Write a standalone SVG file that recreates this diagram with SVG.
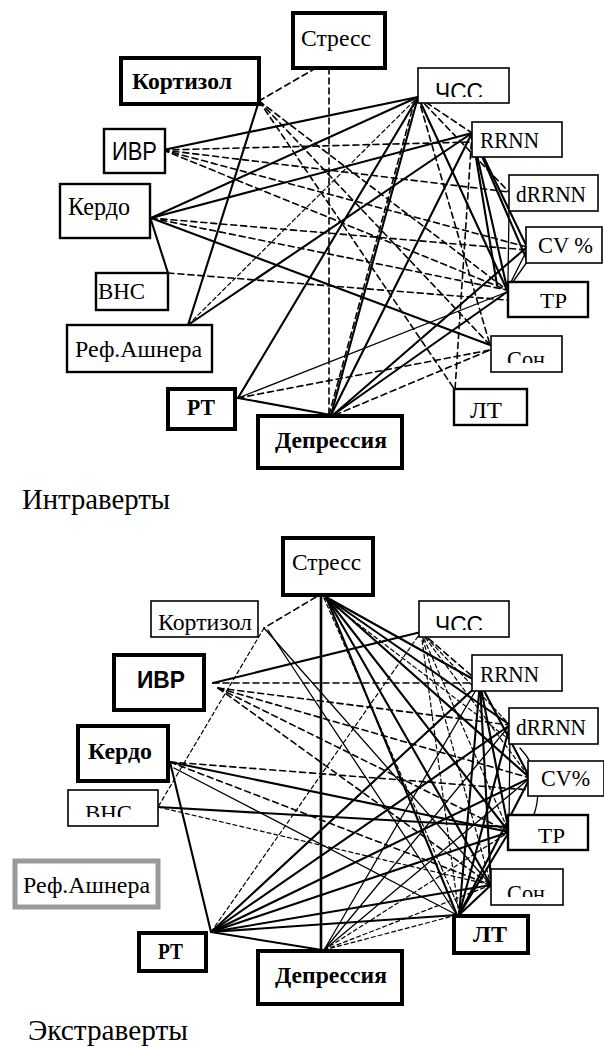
<svg xmlns="http://www.w3.org/2000/svg" width="604" height="1047" viewBox="0 0 604 1047">
<style>
.bg{fill:#fff}
.box{fill:#fff;stroke:#000}
.b1{stroke-width:1.6}
.b2{stroke-width:2.4}
.b4{stroke-width:4}
.gray{stroke:#999;stroke-width:5}
.t{font-family:"Liberation Serif","Times New Roman",serif;fill:#000}
.sans{font-family:"Liberation Sans",Arial,sans-serif;fill:#000}
.bold{font-weight:bold}
.cap{font-family:"Liberation Serif","Times New Roman",serif;font-size:29px;fill:#000}
.c line,.c path{fill:none;stroke:#000;stroke-linecap:round}
.s{stroke-width:2.1}
.n{stroke-width:1.3}
.d{stroke-width:1.6;stroke-dasharray:6 4;stroke-linecap:butt}
.dn{stroke-width:1.2;stroke-dasharray:4 3;stroke-linecap:butt}
</style>
<defs>
<clipPath id="cp1"><rect x="418" y="68" width="91" height="29"/></clipPath>
<clipPath id="cp2"><rect x="491" y="336" width="71" height="27"/></clipPath>
<clipPath id="cp3"><rect x="68" y="790" width="90" height="27"/></clipPath>
<clipPath id="cp4"><rect x="419" y="601" width="90" height="29"/></clipPath>
<clipPath id="cp5"><rect x="491" y="869" width="72" height="28"/></clipPath>
</defs>
<rect class="bg" x="0" y="0" width="604" height="1047"/>

<!-- ===== TOP: connectors ===== -->
<g id="connectors-top" class="c">
<line class="d" x1="329" y1="68" x2="329" y2="415"/>
<line class="d" x1="316" y1="68" x2="259" y2="101"/>
<line class="s" x1="259" y1="101" x2="188" y2="325"/>
<line class="d" x1="259" y1="101" x2="490" y2="345"/>
<line class="d" x1="259" y1="101" x2="455" y2="390"/>
<line class="d" x1="259" y1="101" x2="507" y2="290"/>
<line class="s" x1="163" y1="150" x2="418" y2="97"/>
<line class="d" x1="163" y1="150" x2="472" y2="142"/>
<line class="d" x1="163" y1="150" x2="509" y2="192"/>
<line class="d" x1="163" y1="150" x2="527" y2="247"/>
<line class="d" x1="163" y1="150" x2="507" y2="290"/>
<line class="s" x1="151" y1="218" x2="418" y2="97"/>
<line class="s" x1="151" y1="218" x2="472" y2="133"/>
<line class="s" x1="151" y1="218" x2="490" y2="345"/>
<line class="s" x1="151" y1="220" x2="168" y2="273"/>
<line class="d" x1="151" y1="218" x2="507" y2="290"/>
<line class="d" x1="151" y1="218" x2="527" y2="250"/>
<line class="d" x1="168" y1="273" x2="507" y2="300"/>
<line class="s" x1="188" y1="325" x2="472" y2="133"/>
<line class="dn" x1="188" y1="325" x2="418" y2="97"/>
<line class="s" x1="238" y1="398" x2="418" y2="97"/>
<line class="n" x1="238" y1="398" x2="507" y2="292"/>
<line class="d" x1="238" y1="398" x2="490" y2="350"/>
<line class="s" x1="238" y1="398" x2="331" y2="415"/>
<line class="s" x1="333" y1="415" x2="527" y2="247"/>
<line class="s" x1="333" y1="415" x2="507" y2="292"/>
<line class="d" x1="335" y1="415" x2="490" y2="350"/>
<line class="s" x1="331" y1="415" x2="472" y2="133"/>
<line class="s" x1="331" y1="415" x2="418" y2="97"/>
<line class="d" x1="329" y1="415" x2="414" y2="103"/>
<line class="s" x1="418" y1="97" x2="507" y2="290"/>
<line class="d" x1="418" y1="97" x2="472" y2="133"/>
<line class="d" x1="418" y1="97" x2="509" y2="192"/>
<line class="d" x1="418" y1="97" x2="490" y2="345"/>
<line class="s" x1="472" y1="133" x2="507" y2="288"/>
<line class="s" x1="472" y1="133" x2="527" y2="247"/>
<line class="s" x1="472" y1="133" x2="527" y2="260"/>
<line class="s" x1="472" y1="133" x2="497" y2="285"/>
<line class="n" x1="509" y1="211" x2="508" y2="282"/>
<line class="n" x1="507" y1="290" x2="527" y2="250"/>
<line class="n" x1="510" y1="286" x2="527" y2="262"/>
<line class="d" x1="472" y1="133" x2="455" y2="390"/>
</g>

<!-- ===== TOP: nodes ===== -->
<g id="t-stress"><rect class="box b4" x="293" y="13" width="92" height="55"/><text class="t" x="301" y="46" font-size="23" textLength="70" lengthAdjust="spacingAndGlyphs">Стресс</text></g>
<g id="t-kortizol"><rect class="box b4" x="121" y="58" width="138" height="46"/><text class="t bold" x="132" y="89" font-size="23" textLength="100" lengthAdjust="spacingAndGlyphs">Кортизол</text></g>
<g id="t-ivr"><rect class="box b2" x="104" y="129" width="61" height="44"/><text class="sans" x="112" y="160" font-size="25" textLength="45" lengthAdjust="spacingAndGlyphs">ИВР</text></g>
<g id="t-kerdo"><rect class="box b2" x="60" y="184" width="90" height="54"/><text class="t" x="68" y="215" font-size="25" textLength="62" lengthAdjust="spacingAndGlyphs">Кердо</text></g>
<g id="t-vns"><rect class="box b2" x="96" y="273" width="72" height="37"/><text class="t" x="98" y="299" font-size="23" textLength="47" lengthAdjust="spacingAndGlyphs">ВНС</text></g>
<g id="t-ash"><rect class="box b2" x="67" y="325" width="145" height="47"/><text class="t" x="75" y="357" font-size="24" textLength="127" lengthAdjust="spacingAndGlyphs">Реф.Ашнера</text></g>
<g id="t-rt"><rect class="box b4" x="168" y="389" width="67" height="40"/><text class="t bold" x="187" y="415" font-size="23" textLength="28" lengthAdjust="spacingAndGlyphs">РТ</text></g>
<g id="t-depr"><rect class="box b4" x="258" y="416" width="144" height="52"/><text class="t bold" x="275" y="448" font-size="24" textLength="112" lengthAdjust="spacingAndGlyphs">Депрессия</text></g>
<g id="t-chss"><rect class="box b1" x="418" y="68" width="91" height="35"/><text class="sans" x="435" y="100" font-size="23" textLength="48" lengthAdjust="spacingAndGlyphs" clip-path="url(#cp1)">ЧСС</text></g>
<g id="t-rrnn"><rect class="box b1" x="472" y="122" width="90" height="35"/><text class="t" x="480" y="148" font-size="23" textLength="59" lengthAdjust="spacingAndGlyphs">RRNN</text></g>
<g id="t-drrnn"><rect class="box b1" x="509" y="175" width="89" height="36"/><text class="t" x="516" y="202" font-size="23" textLength="70" lengthAdjust="spacingAndGlyphs">dRRNN</text></g>
<g id="t-cv"><rect class="box b1" x="526" y="227" width="76" height="36"/><text class="t" x="538" y="253" font-size="24" textLength="55" lengthAdjust="spacingAndGlyphs">CV %</text></g>
<g id="t-tr"><rect class="box b2" x="508" y="282" width="80" height="35"/><text class="t" x="540" y="308" font-size="21" textLength="27" lengthAdjust="spacingAndGlyphs">ТР</text></g>
<g id="t-son"><rect class="box b1" x="491" y="336" width="71" height="36"/><text class="t" x="507" y="367" font-size="23" textLength="38" lengthAdjust="spacingAndGlyphs" clip-path="url(#cp2)">Сон</text></g>
<g id="t-lt"><rect class="box b2" x="454" y="389" width="73" height="36"/><text class="t" x="470" y="418" font-size="23" textLength="32" lengthAdjust="spacingAndGlyphs">ЛТ</text></g>

<text id="cap-intro" class="cap" x="22" y="509" textLength="148" lengthAdjust="spacingAndGlyphs">Интраверты</text>

<!-- ===== BOTTOM: connectors ===== -->
<g id="connectors-bottom" class="c">
<line class="s" x1="321" y1="596" x2="321" y2="950" style="stroke-width:2.6"/>
<line class="d" x1="316" y1="597" x2="264" y2="628"/>
<line class="s" x1="326" y1="597" x2="480" y2="683"/>
<line class="s" x1="326" y1="597" x2="510" y2="725"/>
<line class="s" x1="326" y1="597" x2="530" y2="778"/>
<line class="s" x1="326" y1="597" x2="509" y2="832"/>
<line class="s" x1="326" y1="597" x2="491" y2="885"/>
<line class="s" x1="326" y1="597" x2="457" y2="915"/>
<line class="dn" x1="324" y1="598" x2="462" y2="915"/>
<line class="dn" x1="324" y1="598" x2="510" y2="740"/>
<line class="n" x1="264" y1="628" x2="491" y2="885"/>
<line class="n" x1="268" y1="630" x2="457" y2="915"/>
<line class="dn" x1="264" y1="628" x2="158" y2="807"/>
<line class="s" x1="213" y1="683" x2="421" y2="632"/>
<line class="d" x1="213" y1="683" x2="480" y2="683"/>
<line class="d" x1="218" y1="688" x2="510" y2="725"/>
<line class="d" x1="218" y1="688" x2="530" y2="778"/>
<line class="d" x1="218" y1="688" x2="509" y2="832"/>
<line class="d" x1="218" y1="688" x2="491" y2="885"/>
<line class="s" x1="170" y1="762" x2="211" y2="932"/>
<line class="s" x1="170" y1="762" x2="509" y2="832"/>
<line class="n" x1="174" y1="768" x2="457" y2="915"/>
<line class="d" x1="170" y1="762" x2="530" y2="790"/>
<line class="d" x1="170" y1="762" x2="491" y2="885"/>
<line class="s" x1="158" y1="807" x2="509" y2="827"/>
<line class="dn" x1="158" y1="807" x2="491" y2="885"/>
<line class="dn" x1="211" y1="932" x2="421" y2="632"/>
<line class="s" x1="211" y1="932" x2="480" y2="683"/>
<line class="s" x1="211" y1="932" x2="510" y2="725"/>
<line class="s" x1="211" y1="932" x2="530" y2="778"/>
<line class="s" x1="211" y1="932" x2="509" y2="832"/>
<line class="s" x1="211" y1="932" x2="491" y2="885"/>
<line class="s" x1="211" y1="932" x2="457" y2="915"/>
<line class="s" x1="211" y1="932" x2="322" y2="950"/>
<line class="n" x1="324" y1="950" x2="480" y2="683"/>
<line class="n" x1="324" y1="950" x2="510" y2="725"/>
<line class="n" x1="324" y1="950" x2="530" y2="778"/>
<line class="dn" x1="324" y1="950" x2="509" y2="832"/>
<line class="dn" x1="324" y1="950" x2="491" y2="885"/>
<line class="dn" x1="324" y1="950" x2="457" y2="915"/>
<line class="s" x1="459" y1="915" x2="480" y2="683"/>
<line class="s" x1="459" y1="915" x2="510" y2="725"/>
<line class="s" x1="459" y1="915" x2="530" y2="778"/>
<line class="s" x1="459" y1="915" x2="509" y2="832"/>
<line class="s" x1="459" y1="915" x2="491" y2="885"/>
<line class="dn" x1="459" y1="915" x2="421" y2="632"/>
<line class="d" x1="421" y1="632" x2="480" y2="683"/>
<line class="dn" x1="421" y1="632" x2="510" y2="725"/>
<line class="dn" x1="421" y1="632" x2="530" y2="778"/>
<line class="dn" x1="421" y1="632" x2="509" y2="832"/>
<line class="dn" x1="421" y1="632" x2="491" y2="885"/>
<line class="s" x1="480" y1="683" x2="509" y2="832"/>
<line class="s" x1="480" y1="683" x2="530" y2="778"/>
<line class="s" x1="480" y1="683" x2="491" y2="885"/>
<line class="n" x1="510" y1="725" x2="509" y2="832"/>
<path class="n" d="M520 748 C545 775 545 815 512 848"/>
</g>

<!-- ===== BOTTOM: nodes ===== -->
<g id="b-stress"><rect class="box b4" x="283" y="538" width="90" height="57"/><text class="t" x="292" y="570" font-size="23" textLength="69" lengthAdjust="spacingAndGlyphs">Стресс</text></g>
<g id="b-kortizol"><rect class="box b1" x="151" y="601" width="107" height="36"/><text class="t" x="158" y="630" font-size="23" textLength="94" lengthAdjust="spacingAndGlyphs">Кортизол</text></g>
<g id="b-ivr"><rect class="box b4" x="114" y="655" width="90" height="55"/><text class="sans bold" x="137" y="688" font-size="23" textLength="48" lengthAdjust="spacingAndGlyphs">ИВР</text></g>
<g id="b-kerdo"><rect class="box b4" x="78" y="726" width="90" height="55"/><text class="t bold" x="88" y="759" font-size="24" textLength="64" lengthAdjust="spacingAndGlyphs">Кердо</text></g>
<g id="b-vns"><rect class="box b1" x="68" y="790" width="90" height="36"/><text class="t" x="85" y="821" font-size="23" textLength="47" lengthAdjust="spacingAndGlyphs" clip-path="url(#cp3)">ВНС</text></g>
<g id="b-ash"><rect class="box gray" x="15" y="861" width="143" height="46"/><text class="t" x="23" y="893" font-size="24" textLength="127" lengthAdjust="spacingAndGlyphs">Реф.Ашнера</text></g>
<g id="b-rt"><rect class="box b4" x="139" y="933" width="67" height="38"/><text class="t bold" x="158" y="959" font-size="23" textLength="25" lengthAdjust="spacingAndGlyphs">РТ</text></g>
<g id="b-depr"><rect class="box b4" x="258" y="951" width="144" height="53"/><text class="t bold" x="275" y="983" font-size="24" textLength="112" lengthAdjust="spacingAndGlyphs">Депрессия</text></g>
<g id="b-chss"><rect class="box b1" x="419" y="601" width="90" height="36"/><text class="sans" x="435" y="633" font-size="23" textLength="48" lengthAdjust="spacingAndGlyphs" clip-path="url(#cp4)">ЧСС</text></g>
<g id="b-rrnn"><rect class="box b1" x="472" y="655" width="90" height="36"/><text class="t" x="480" y="682" font-size="23" textLength="59" lengthAdjust="spacingAndGlyphs">RRNN</text></g>
<g id="b-drrnn"><rect class="box b1" x="509" y="708" width="89" height="36"/><text class="t" x="516" y="735" font-size="23" textLength="70" lengthAdjust="spacingAndGlyphs">dRRNN</text></g>
<g id="b-cv"><rect class="box b1" x="528" y="761" width="76" height="35"/><text class="t" x="541" y="786" font-size="24" textLength="49" lengthAdjust="spacingAndGlyphs">CV%</text></g>
<g id="b-tr"><rect class="box b2" x="508" y="815" width="80" height="35"/><text class="t" x="538" y="843" font-size="21" textLength="27" lengthAdjust="spacingAndGlyphs">ТР</text></g>
<g id="b-son"><rect class="box b1" x="491" y="869" width="72" height="36"/><text class="t" x="507" y="901" font-size="23" textLength="38" lengthAdjust="spacingAndGlyphs" clip-path="url(#cp5)">Сон</text></g>
<g id="b-lt"><rect class="box b4" x="454" y="916" width="74" height="37"/><text class="t bold" x="473" y="942" font-size="23" textLength="34" lengthAdjust="spacingAndGlyphs">ЛТ</text></g>

<text id="cap-extra" class="cap" x="28" y="1040" textLength="160" lengthAdjust="spacingAndGlyphs">Экстраверты</text>
</svg>
